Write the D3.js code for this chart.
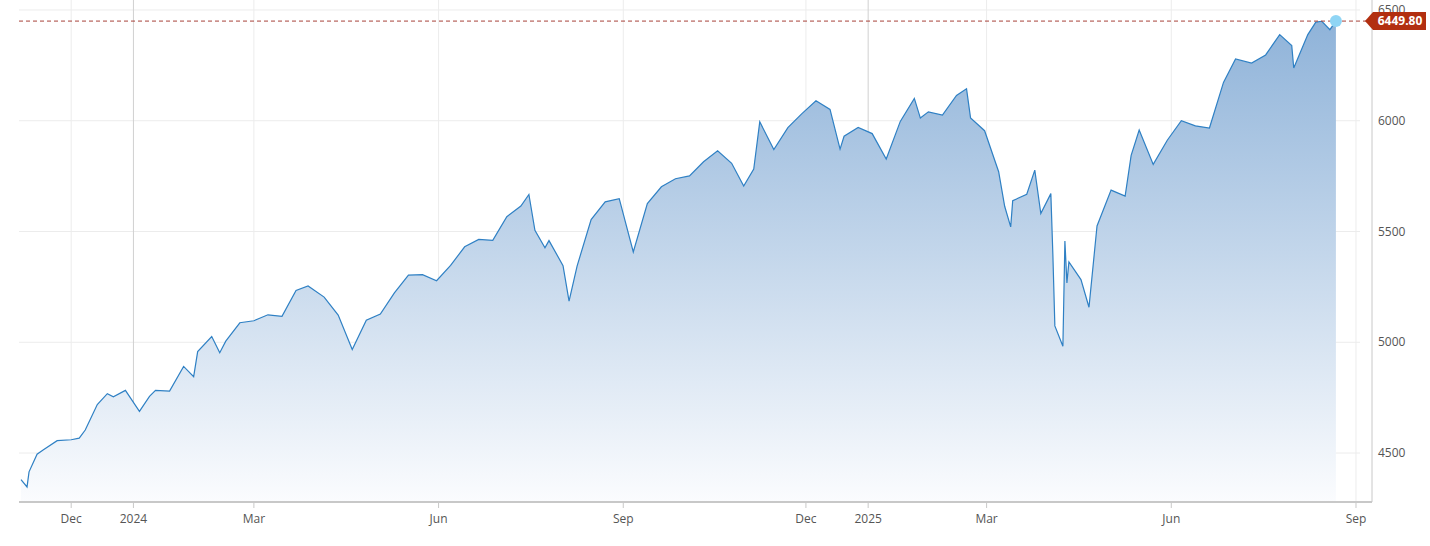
<!DOCTYPE html>
<html>
<head>
<meta charset="utf-8">
<script src="https://cdn.jsdelivr.net/npm/d3@7"></script>
<style>
  body { margin: 0; background: #fff; font-family: "Open Sans", "DejaVu Sans", sans-serif; }
</style>
</head>
<body>
<div id="chart"></div>
<script>
"use strict";

// values (weekly-ish, with notable daily swings)
var dates = ["2023-11-06","2023-11-09","2023-11-10","2023-11-14","2023-11-17","2023-11-24","2023-12-01","2023-12-05","2023-12-08","2023-12-14","2023-12-19","2023-12-22","2023-12-28","2024-01-04","2024-01-09","2024-01-12","2024-01-19","2024-01-26","2024-01-31","2024-02-02","2024-02-09","2024-02-13","2024-02-16","2024-02-23","2024-03-01","2024-03-08","2024-03-15","2024-03-22","2024-03-28","2024-04-05","2024-04-12","2024-04-19","2024-04-26","2024-05-03","2024-05-10","2024-05-17","2024-05-24","2024-05-31","2024-06-07","2024-06-14","2024-06-21","2024-06-28","2024-07-05","2024-07-12","2024-07-16","2024-07-19","2024-07-24","2024-07-26","2024-08-02","2024-08-05","2024-08-09","2024-08-16","2024-08-23","2024-08-30","2024-09-06","2024-09-13","2024-09-20","2024-09-27","2024-10-04","2024-10-11","2024-10-18","2024-10-25","2024-10-31","2024-11-05","2024-11-08","2024-11-15","2024-11-22","2024-11-29","2024-12-06","2024-12-13","2024-12-18","2024-12-20","2024-12-27","2025-01-03","2025-01-10","2025-01-17","2025-01-24","2025-01-27","2025-01-31","2025-02-07","2025-02-14","2025-02-19","2025-02-21","2025-02-28","2025-03-07","2025-03-10","2025-03-13","2025-03-14","2025-03-21","2025-03-25","2025-03-28","2025-04-02","2025-04-03","2025-04-04","2025-04-08","2025-04-09","2025-04-10","2025-04-11","2025-04-17","2025-04-21","2025-04-25","2025-05-02","2025-05-09","2025-05-12","2025-05-16","2025-05-23","2025-05-30","2025-06-06","2025-06-13","2025-06-20","2025-06-27","2025-07-03","2025-07-11","2025-07-18","2025-07-25","2025-07-31","2025-08-01","2025-08-08","2025-08-12","2025-08-15","2025-08-19","2025-08-22"];
var closes = [4380,4347,4415,4495,4514,4556,4560,4567,4604,4719,4768,4754,4783,4688,4756,4783,4780,4891,4845,4958,5026,4953,5005,5088,5097,5124,5117,5234,5254,5204,5123,4967,5100,5127,5223,5303,5305,5278,5347,5431,5464,5460,5567,5615,5667,5505,5427,5459,5346,5186,5344,5554,5634,5648,5408,5626,5702,5738,5751,5815,5864,5808,5705,5782,5995,5870,5969,6032,6090,6051,5872,5930,5970,5942,5827,5997,6101,6012,6040,6026,6114,6144,6013,5955,5770,5614,5521,5639,5668,5777,5581,5671,5397,5074,4982,5457,5268,5363,5283,5158,5525,5687,5660,5844,5958,5803,5912,6000,5977,5967,6173,6279,6260,6297,6389,6339,6238,6389,6445,6449,6411,6449.8];
var yTicks = [4500, 5000, 5500, 6000, 6500];
var xTicks = [
  {date: "2023-12-01", label: "Dec", year: false},
  {date: "2024-01-01", label: "2024", year: true},
  {date: "2024-03-01", label: "Mar", year: false},
  {date: "2024-06-01", label: "Jun", year: false},
  {date: "2024-09-01", label: "Sep", year: false},
  {date: "2024-12-01", label: "Dec", year: false},
  {date: "2025-01-01", label: "2025", year: true},
  {date: "2025-03-01", label: "Mar", year: false},
  {date: "2025-06-01", label: "Jun", year: false},
  {date: "2025-09-01", label: "Sep", year: false}
];
var lastLabel = "6449.80";

var parse = d3.timeParse("%Y-%m-%d");
var data = dates.map((d, i) => ({date: parse(d), value: closes[i]}));

var W = 1430, H = 546;
var plotLeft = 19, plotRight = 1360, plotTop = 0, plotBottom = 502;

var svg = d3.select("#chart").append("svg")
    .attr("width", W).attr("height", H);

var x = d3.scaleTime()
    .domain([parse("2023-11-05"), parse("2025-09-03")])
    .range([plotLeft, plotRight]);

var y = d3.scaleLinear()
    .domain([4279, 6545])
    .range([plotBottom, plotTop]);

// gradient for the area
var grad = svg.append("defs").append("linearGradient")
    .attr("id", "fillGrad").attr("x1", 0).attr("y1", 0).attr("x2", 0).attr("y2", 1);
grad.append("stop").attr("offset", "0%").attr("stop-color", "#8fb3d9");
grad.append("stop").attr("offset", "100%").attr("stop-color", "#fbfcfe");

// horizontal grid
svg.append("g").selectAll("line")
    .data(yTicks).join("line")
    .attr("x1", plotLeft).attr("x2", plotRight)
    .attr("y1", d => y(d)).attr("y2", d => y(d))
    .attr("stroke", "#ececec");

// vertical grid
svg.append("g").selectAll("line")
    .data(xTicks).join("line")
    .attr("x1", d => x(parse(d.date))).attr("x2", d => x(parse(d.date)))
    .attr("y1", plotTop).attr("y2", plotBottom)
    .attr("stroke", d => d.year ? "#d0d0d0" : "#ececec");

// area + line
var area = d3.area()
    .x(d => x(d.date))
    .y0(plotBottom)
    .y1(d => y(d.value));

var line = d3.line()
    .x(d => x(d.date))
    .y(d => y(d.value));

svg.append("path").datum(data)
    .attr("fill", "url(#fillGrad)")
    .attr("d", area);

svg.append("path").datum(data)
    .attr("fill", "none")
    .attr("stroke", "#2f80c4")
    .attr("stroke-width", 1.2)
    .attr("d", line);

// last value dashed line
var last = data[data.length - 1];
svg.append("line")
    .attr("x1", plotLeft).attr("x2", 1368)
    .attr("y1", y(last.value)).attr("y2", y(last.value))
    .attr("stroke", "#a8423a")
    .attr("stroke-dasharray", "4,3")
    .attr("stroke-width", 1);

svg.append("circle")
    .attr("cx", x(last.date)).attr("cy", y(last.value))
    .attr("r", 6).attr("fill", "#8fd5f5");

// bottom axis
var xAxis = svg.append("g")
    .attr("transform", `translate(0,${plotBottom})`);
xAxis.append("line")
    .attr("x1", plotLeft).attr("x2", 1372)
    .attr("stroke", "#c8c8c8").attr("stroke-width", 2);
xAxis.selectAll("line.tick")
    .data(xTicks).join("line")
    .attr("class", "tick")
    .attr("x1", d => x(parse(d.date))).attr("x2", d => x(parse(d.date)))
    .attr("y1", 0).attr("y2", 6)
    .attr("stroke", "#c8c8c8");
xAxis.selectAll("text")
    .data(xTicks).join("text")
    .attr("x", d => x(parse(d.date)))
    .attr("y", 21)
    .attr("text-anchor", "middle")
    .attr("fill", "#555")
    .style("font-size", "12px")
    .text(d => d.label);

// right axis
svg.append("line")
    .attr("x1", 1372).attr("x2", 1372)
    .attr("y1", plotTop).attr("y2", plotBottom)
    .attr("stroke", "#c8c8c8");
svg.append("g").selectAll("text")
    .data(yTicks).join("text")
    .attr("x", 1378)
    .attr("y", d => y(d) + 4)
    .attr("fill", "#555")
    .style("font-size", "12px")
    .text(d => d);

// last value tag
var ty = y(last.value);
svg.append("path")
    .attr("d", `M1365,${ty} L1373,${ty - 9} L1426,${ty - 9} L1426,${ty + 9} L1373,${ty + 9} Z`)
    .attr("fill", "#b22f10");
svg.append("text")
    .attr("x", 1400).attr("y", ty + 4)
    .attr("text-anchor", "middle")
    .attr("fill", "#fff")
    .style("font-size", "12px")
    .style("font-weight", "bold")
    .text(lastLabel);
</script>
</body>
</html>
